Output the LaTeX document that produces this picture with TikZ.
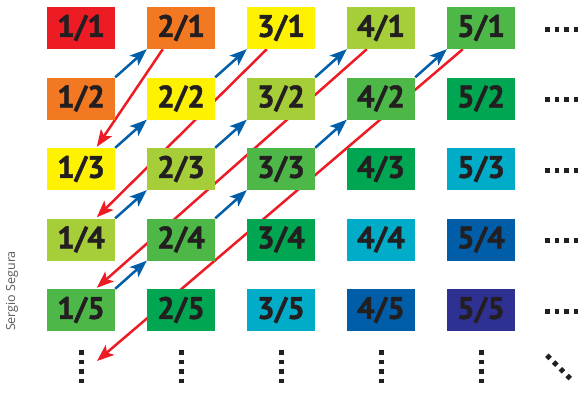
\documentclass[tikz,border=0pt]{standalone}
\usepackage{fontspec}
\setmainfont{PT Sans}
\newfontfamily\fracfont[FakeBold=1.4]{PT Sans Bold}
\newfontfamily\creditfont{Open Sans}
\usetikzlibrary{calc,arrows.meta,backgrounds}
\definecolor{fracink}{RGB}{35,31,32}
\definecolor{diag2}{RGB}{237,28,36}
\definecolor{diag3}{RGB}{243,120,34}
\definecolor{diag4}{RGB}{255,242,0}
\definecolor{diag5}{RGB}{166,206,57}
\definecolor{diag6}{RGB}{77,184,72}
\definecolor{diag7}{RGB}{0,166,81}
\definecolor{diag8}{RGB}{0,172,200}
\definecolor{diag9}{RGB}{0,94,168}
\definecolor{diag10}{RGB}{46,49,146}
\definecolor{cantorup}{RGB}{0,94,168}
\definecolor{cantordown}{RGB}{237,28,36}
\tikzset{
  fbox/.style ={rectangle, minimum width=68pt, minimum height=42pt, inner sep=0pt,
                text=fracink, font=\fracfont\fontsize{31}{31}\selectfont},
  fup/.style  ={-{Stealth[length=17pt, width=13pt, inset=4pt]}, line width=2.5pt, cantorup},
  fdown/.style={-{Stealth[length=17pt, width=13pt, inset=4pt]}, line width=2.5pt, cantordown},
  fdots/.style={line width=5pt, fracink, dash pattern=on 4.5pt off 5pt},
}

\begin{document}
\begin{tikzpicture}[x=1pt, y=-1pt]
  \useasboundingbox (0,0) rectangle (579,394);
  % the grid of fractions, coloured by diagonal
  \foreach \i in {1,...,5}
    \foreach \j in {1,...,5} {
      \pgfmathtruncatemacro\d{\i+\j}
      \node[fbox, fill=diag\d] (f\i\j) at ({81+100*(\i-1)},{28+70.5*(\j-1)}) {\i/\j};
    }
  % up along a diagonal
  \foreach \a/\b in {12/21,13/22,22/31,14/23,23/32,32/41,15/24,24/33,33/42,42/51}
    \draw[fup] (f\a.north east) -- (f\b.south west);
  % back down to the first column
  \coordinate (more) at (97,361);
  \begin{scope}[on background layer]
    \draw[fdown] ($(f21.south west)+(16,0)$) -- ($(f13.north west)+(50,-1)$);
    \draw[fdown] ($(f31.south west)+(20,0)$) -- ($(f14.north west)+(50,-1)$);
    \draw[fdown] ($(f41.south west)+(20,0)$) -- ($(f15.north west)+(50,-1)$);
    \draw[fdown] ($(f51.south west)+(16,0)$) -- (more);
  \end{scope}
  % ellipses
  \foreach \j in {1,...,5}
    \draw[fdots] ($(f5\j.east)+(30,1)$) -- ++(34,0);
  \foreach \i in {1,...,5}
    \draw[fdots] ($(f\i5.south)+(0,19)$) -- ++(0,34);
  \draw[fdots] ($(f55.south east)+(31.7,24.1)$) -- ++(23.5,23.5);
  \node[rotate=90, font=\creditfont\fontsize{12.5}{12.5}\selectfont, text=black!65]
    (credit) at (12,291) {Sergio Segura};
\end{tikzpicture}
\end{document}
